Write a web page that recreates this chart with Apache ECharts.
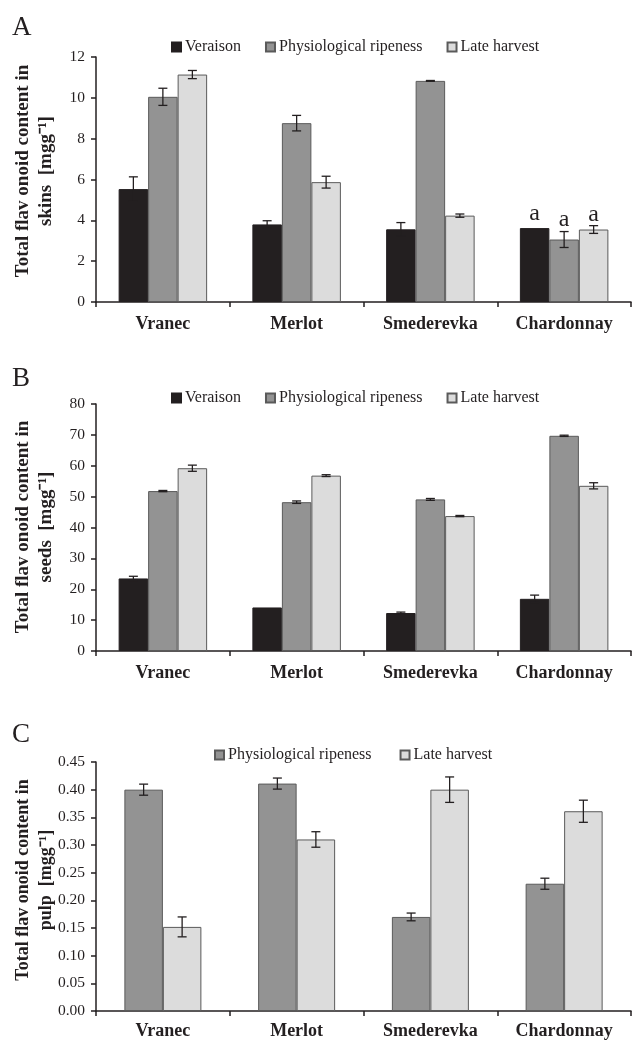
<!DOCTYPE html>
<html>
<head>
<meta charset="utf-8">
<script src="https://cdn.jsdelivr.net/npm/echarts@6/dist/echarts.min.js"></script>
<style>
html,body{margin:0;padding:0;background:#fff;}
#chart{width:632px;height:1040px;}
</style>
</head>
<body>
<div id="chart"></div>
<script>
// ---------- data ----------
var categories = ['Vranec', 'Merlot', 'Smederevka', 'Chardonnay'];
var seriesNames = ['Veraison', 'Physiological ripeness', 'Late harvest'];

var skinsVeraison = [5.53, 3.80, 3.56, 3.62];
var skinsVeraisonErr = [0.60, 0.18, 0.33, 0];
var skinsRipeness = [10.05, 8.76, 10.83, 3.06];
var skinsRipenessErr = [0.42, 0.38, 0.02, 0.39];
var skinsLate = [11.14, 5.87, 4.23, 3.55];
var skinsLateErr = [0.20, 0.29, 0.08, 0.19];
var skinsLetters = ['', '', '', 'a'];

var seedsVeraison = [23.5, 14.1, 12.3, 16.9];
var seedsVeraisonErr = [0.7, 0, 0.3, 1.2];
var seedsRipeness = [51.8, 48.2, 49.1, 69.7];
var seedsRipenessErr = [0.2, 0.4, 0.3, 0.2];
var seedsLate = [59.2, 56.8, 43.7, 53.5];
var seedsLateErr = [1.0, 0.3, 0.2, 1.0];

var pulpRipeness = [0.400, 0.411, 0.170, 0.230];
var pulpRipenessErr = [0.010, 0.010, 0.007, 0.010];
var pulpLate = [0.152, 0.310, 0.400, 0.361];
var pulpLateErr = [0.018, 0.014, 0.023, 0.020];

var skinsTicks = {min: 0, max: 12, interval: 2};
var seedsTicks = {min: 0, max: 80, interval: 10};
var pulpTicks = {min: 0, max: 0.45, interval: 0.05};

// ---------- styles ----------
var FONT = '"Liberation Serif", "Times New Roman", serif';
var INK = '#231f20';
var styles = {
  'Veraison': {color: '#231f20', borderColor: '#231f20', borderWidth: 1},
  'Physiological ripeness': {color: '#939393', borderColor: '#5a5a5a', borderWidth: 1},
  'Late harvest': {color: '#dcdcdc', borderColor: '#5a5a5a', borderWidth: 1}
};

var grids = [
  {left: 96, right: 1, top: 57, height: 245},
  {left: 96, right: 1, top: 404, height: 247},
  {left: 96, right: 1, top: 762, height: 250}
];

var xAxes = [], yAxes = [], series = [];

function addPanel(idx, ticks, fmt, barW, labelMargin, list) {
  xAxes.push({
    type: 'category', gridIndex: idx, data: categories,
    axisLine: {lineStyle: {color: INK, width: 1.5}},
    axisTick: {show: true, length: 5, lineStyle: {color: INK, width: 1.5}},
    axisLabel: {fontFamily: FONT, fontWeight: 'bold', fontSize: 18, color: INK, margin: labelMargin, interval: 0}
  });
  yAxes.push({
    type: 'value', gridIndex: idx, min: ticks.min, max: ticks.max, interval: ticks.interval,
    splitLine: {show: false},
    axisLine: {show: true, lineStyle: {color: INK, width: 1.5}},
    axisTick: {show: true, length: 5, lineStyle: {color: INK, width: 1.5}},
    axisLabel: {fontFamily: FONT, fontSize: 15.5, color: INK, margin: 11, formatter: fmt}
  });
  var n = list.length;
  list.forEach(function (s, k) {
    var st = styles[s.name];
    series.push({
      type: 'bar', name: s.name, xAxisIndex: idx, yAxisIndex: idx,
      barWidth: barW, barGap: '0%',
      itemStyle: st,
      data: s.values.map(function (v, i) {
        var d = {value: v};
        if (s.letters && s.letters[i]) {
          d.label = {show: true, position: 'top', formatter: s.letters[i],
            distance: s.letterDist, fontFamily: FONT, fontSize: 24, color: INK};
        }
        return d;
      })
    });
    var offset = (k - (n - 1) / 2) * barW;
    series.push({
      type: 'custom', name: 'err-' + idx + '-' + k, xAxisIndex: idx, yAxisIndex: idx,
      silent: true, z: 5,
      data: s.values.map(function (v, i) { return [i, v, s.err[i]]; }),
      renderItem: function (params, api) {
        var e = api.value(2);
        if (!e) return null;
        var c = api.value(0), v = api.value(1);
        var x = api.coord([c, v])[0] + offset;
        var yt = api.coord([c, v + e])[1];
        var yb = api.coord([c, v - e])[1];
        var hw = 4.5;
        var ls = {stroke: INK, lineWidth: 1.3};
        return {type: 'group', children: [
          {type: 'line', shape: {x1: x, y1: yt, x2: x, y2: yb}, style: ls},
          {type: 'line', shape: {x1: x - hw, y1: yt, x2: x + hw, y2: yt}, style: ls},
          {type: 'line', shape: {x1: x - hw, y1: yb, x2: x + hw, y2: yb}, style: ls}
        ]};
      }
    });
  });
}

var intFmt = function (v) { return String(Math.round(v)); };
var decFmt = function (v) { return v.toFixed(2); };

addPanel(0, skinsTicks, intFmt, 29.5, 13, [
  {name: 'Veraison', values: skinsVeraison, err: skinsVeraisonErr, letters: skinsLetters, letterDist: 2},
  {name: 'Physiological ripeness', values: skinsRipeness, err: skinsRipenessErr, letters: skinsLetters, letterDist: 8},
  {name: 'Late harvest', values: skinsLate, err: skinsLateErr, letters: skinsLetters, letterDist: 3}
]);
addPanel(1, seedsTicks, intFmt, 29.5, 13, [
  {name: 'Veraison', values: seedsVeraison, err: seedsVeraisonErr},
  {name: 'Physiological ripeness', values: seedsRipeness, err: seedsRipenessErr},
  {name: 'Late harvest', values: seedsLate, err: seedsLateErr}
]);
addPanel(2, pulpTicks, decFmt, 38.5, 11, [
  {name: 'Physiological ripeness', values: pulpRipeness, err: pulpRipenessErr},
  {name: 'Late harvest', values: pulpLate, err: pulpLateErr}
]);

var legendBase = {
  icon: 'rect', itemWidth: 9, itemHeight: 9, orient: 'horizontal',
  textStyle: {fontFamily: FONT, fontSize: 16, color: INK, padding: [0, 0, 0, -1]},
  selectedMode: false
};
function legend(left, top, data, gap) {
  return Object.assign({}, legendBase, {left: left, top: top, data: data, itemGap: gap});
}

function yTitle(x, y, line2, size) {
  return {
    type: 'text', x: x, y: y, rotation: Math.PI / 2,
    style: {
      text: 'Total flav onoid content in\n' + line2,
      font: 'bold ' + size + 'px ' + FONT,
      textAlign: 'center', textVerticalAlign: 'middle',
      lineHeight: 23, fill: INK
    }
  };
}
function panelLetter(t, y) {
  return {type: 'text', x: 12, y: y, style: {text: t, font: '27px ' + FONT, fill: INK, textVerticalAlign: 'top'}};
}

var chart = echarts.init(document.getElementById('chart'), null, {renderer: 'canvas'});
chart.setOption({
  animation: false,
  backgroundColor: '#fff',
  grid: grids,
  xAxis: xAxes,
  yAxis: yAxes,
  legend: [
    legend(166, 34, seriesNames, 24),
    legend(166, 385, seriesNames, 24),
    legend(209, 742, ['Physiological ripeness', 'Late harvest'], 28)
  ],
  graphic: [
    panelLetter('A', 14),
    panelLetter('B', 365),
    panelLetter('C', 721),
    yTitle(35, 171, 'skins  [mgg\u207B\u00B9]', 19),
    yTitle(35, 527, 'seeds  [mgg\u207B\u00B9]', 19),
    yTitle(35, 880, 'pulp  [mgg\u207B\u00B9]', 18)
  ],
  series: series
});
</script>
</body>
</html>
